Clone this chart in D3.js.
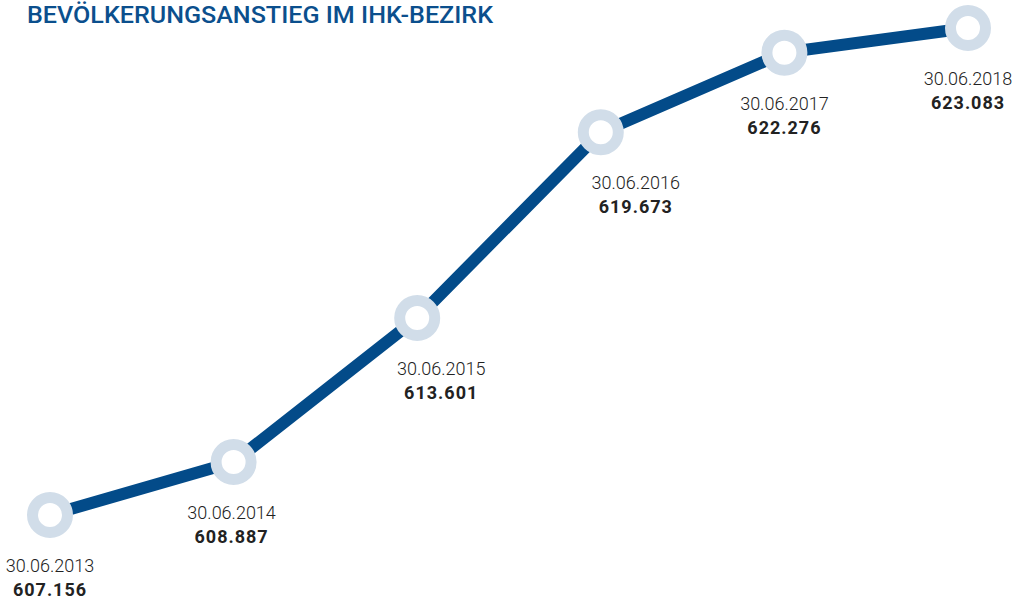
<!DOCTYPE html>
<html>
<head>
<meta charset="utf-8">
<script src="https://cdn.jsdelivr.net/npm/d3@7"></script>
<style>
  body { margin: 0; background: #fff; }
  svg { display: block; }
</style>
</head>
<body>
<div id="chart"></div>
<script>
const width = 1027,
    height = 601;

// data
const dates = ["30.06.2013", "30.06.2014", "30.06.2015", "30.06.2016", "30.06.2017", "30.06.2018"];
const population = [607156, 608887, 613601, 619673, 622276, 623083];
const title = "BEVÖLKERUNGSANSTIEG IM IHK-BEZIRK";

// horizontal nudge of each label so it clears the line
const labelShift = [0, -2, 24, 35, 0, 0];

const lineColor = "#034b89",
    ringColor = "#d1dde9";

const data = dates.map((d, i) => ({ date: d, value: population[i], shift: labelShift[i] }));

const x = d3.scalePoint()
    .domain(dates)
    .range([50, 968]);

const y = d3.scaleLinear()
    .domain(d3.extent(population))
    .range([515, 28]);

const fmt = d3.formatLocale({ decimal: ",", thousands: ".", grouping: [3], currency: ["", "€"] }).format(",d");

const svg = d3.select("#chart")
    .append("svg")
    .attr("width", width)
    .attr("height", height);

// title
svg.append("text")
    .attr("x", 27)
    .attr("y", 23)
    .attr("font-family", "Roboto, sans-serif")
    .attr("font-weight", 500)
    .attr("font-size", 24)
    .attr("fill", "#0b4f8d")
    .attr("textLength", 466)
    .attr("lengthAdjust", "spacingAndGlyphs")
    .text(title);

// line
const line = d3.line()
    .x(d => x(d.date))
    .y(d => y(d.value));

svg.append("path")
    .datum(data)
    .attr("fill", "none")
    .attr("stroke", lineColor)
    .attr("stroke-width", 12)
    .attr("d", line);

// rings
svg.selectAll("circle.ring")
    .data(data)
    .join("circle")
    .attr("class", "ring")
    .attr("cx", d => x(d.date))
    .attr("cy", d => y(d.value))
    .attr("r", 17.5)
    .attr("fill", "#fff")
    .attr("stroke", ringColor)
    .attr("stroke-width", 11);

// labels
const labels = svg.selectAll("g.label")
    .data(data)
    .join("g")
    .attr("class", "label")
    .attr("transform", d => `translate(${x(d.date) + d.shift}, ${y(d.value)})`)
    .attr("text-anchor", "middle")
    .attr("font-family", "Roboto, sans-serif")
    .attr("font-size", 18)
    .attr("fill", "#222");

labels.append("text")
    .attr("y", 57)
    .attr("font-weight", 300)
    .text(d => d.date);

labels.append("text")
    .attr("y", 81)
    .attr("font-weight", 700)
    .attr("letter-spacing", 1)
    .text(d => fmt(d.value));
</script>
</body>
</html>
